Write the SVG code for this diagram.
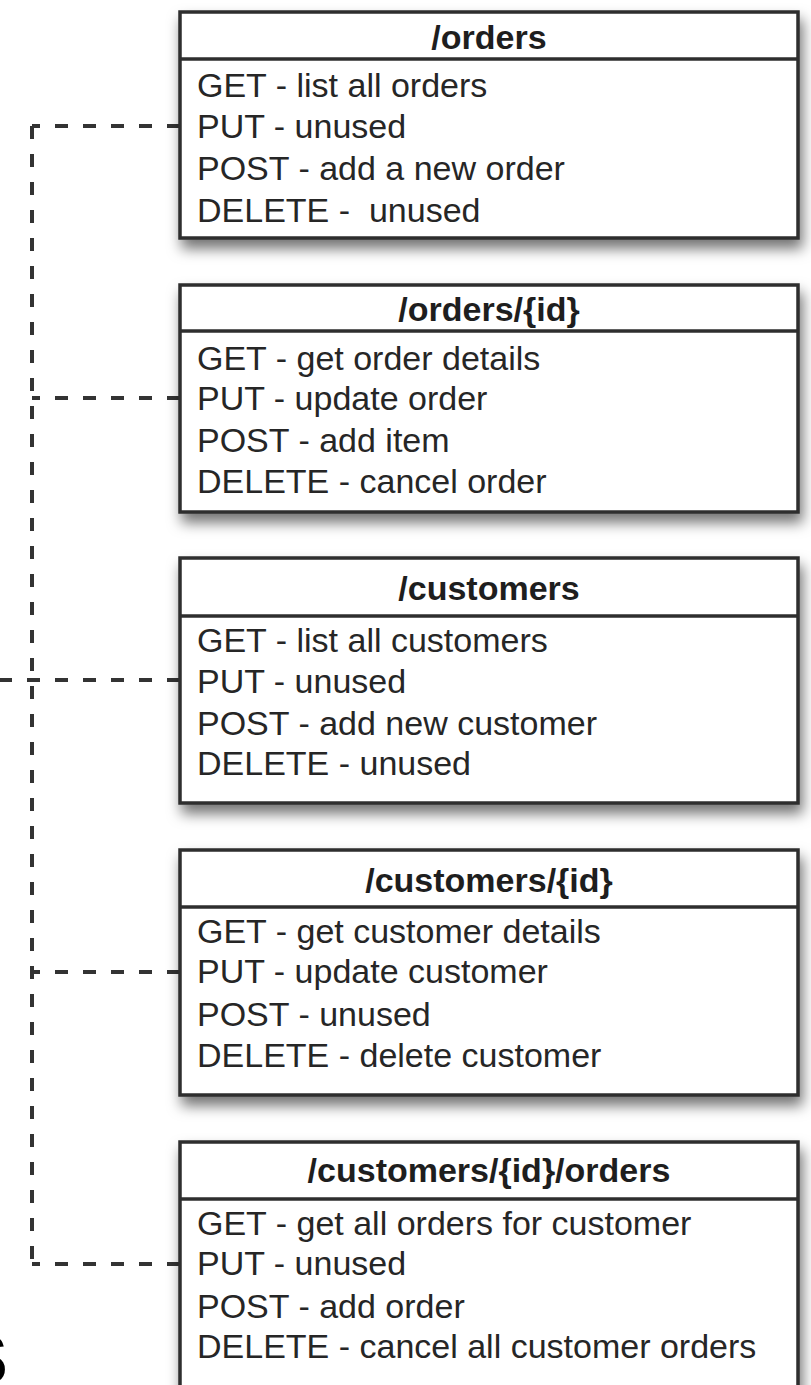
<svg xmlns="http://www.w3.org/2000/svg" width="811" height="1385" viewBox="0 0 811 1385">
  <defs>
    <filter id="shadow" x="-10%" y="-10%" width="125%" height="135%">
      <feDropShadow dx="3" dy="9" stdDeviation="7" flood-color="#000" flood-opacity="0.55"/>
    </filter>
  </defs>
  <style>
    .box { fill: #fff; stroke: #2e2e2e; stroke-width: 3.5; }
    .sep { stroke: #2e2e2e; stroke-width: 3.5; }
    .hdr { font-family: "Liberation Sans", Arial, sans-serif; font-weight: bold; font-size: 34px; fill: #1e1e1e; text-anchor: middle; }
    .row { font-family: "Liberation Sans", Arial, sans-serif; font-size: 34px; fill: #262626; }
    .dash { fill: none; stroke: #333; stroke-width: 4; stroke-dasharray: 13 15; }
  </style>
  <rect width="811" height="1385" fill="#fff"/>

  <g id="connectors">
    <path class="dash" d="M32 126 V1264"/>
    <path class="dash" d="M180 126 H32"/>
    <path class="dash" d="M180 398 H32"/>
    <path class="dash" d="M180 680 H0"/>
    <path class="dash" d="M180 972 H32"/>
    <path class="dash" d="M180 1264 H32"/>
  </g>

  <g id="orders">
    <rect class="box" x="180" y="12" width="618" height="226" filter="url(#shadow)"/>
    <line class="sep" x1="180" y1="59" x2="798" y2="59"/>
    <text class="hdr" x="489" y="49">/orders</text>
    <text class="row" x="197" y="97">GET - list all orders</text>
    <text class="row" x="197" y="138">PUT - unused</text>
    <text class="row" x="197" y="180">POST - add a new order</text>
    <text class="row" x="197" y="222" xml:space="preserve">DELETE -  unused</text>
  </g>

  <g id="orders-id">
    <rect class="box" x="180" y="285" width="618" height="227" filter="url(#shadow)"/>
    <line class="sep" x1="180" y1="331" x2="798" y2="331"/>
    <text class="hdr" x="489" y="321">/orders/{id}</text>
    <text class="row" x="197" y="370">GET - get order details</text>
    <text class="row" x="197" y="410">PUT - update order</text>
    <text class="row" x="197" y="452">POST - add item</text>
    <text class="row" x="197" y="493">DELETE - cancel order</text>
  </g>

  <g id="customers">
    <rect class="box" x="180" y="558" width="618" height="245" filter="url(#shadow)"/>
    <line class="sep" x1="180" y1="616" x2="798" y2="616"/>
    <text class="hdr" x="489" y="600">/customers</text>
    <text class="row" x="197" y="652">GET - list all customers</text>
    <text class="row" x="197" y="693">PUT - unused</text>
    <text class="row" x="197" y="735">POST - add new customer</text>
    <text class="row" x="197" y="775">DELETE - unused</text>
  </g>

  <g id="customers-id">
    <rect class="box" x="180" y="850" width="618" height="245" filter="url(#shadow)"/>
    <line class="sep" x1="180" y1="907" x2="798" y2="907"/>
    <text class="hdr" x="489" y="892">/customers/{id}</text>
    <text class="row" x="197" y="943">GET - get customer details</text>
    <text class="row" x="197" y="983">PUT - update customer</text>
    <text class="row" x="197" y="1026">POST - unused</text>
    <text class="row" x="197" y="1067">DELETE - delete customer</text>
  </g>

  <g id="customers-id-orders">
    <rect class="box" x="180" y="1142" width="618" height="260" filter="url(#shadow)"/>
    <line class="sep" x1="180" y1="1199" x2="798" y2="1199"/>
    <text class="hdr" x="489" y="1182">/customers/{id}/orders</text>
    <text class="row" x="197" y="1235">GET - get all orders for customer</text>
    <text class="row" x="197" y="1275">PUT - unused</text>
    <text class="row" x="197" y="1318">POST - add order</text>
    <text class="row" x="197" y="1358">DELETE - cancel all customer orders</text>
  </g>

  <text x="-44" y="1384" font-family="Liberation Sans, Arial, sans-serif" font-weight="bold" font-size="95" fill="#000">s</text>
</svg>
